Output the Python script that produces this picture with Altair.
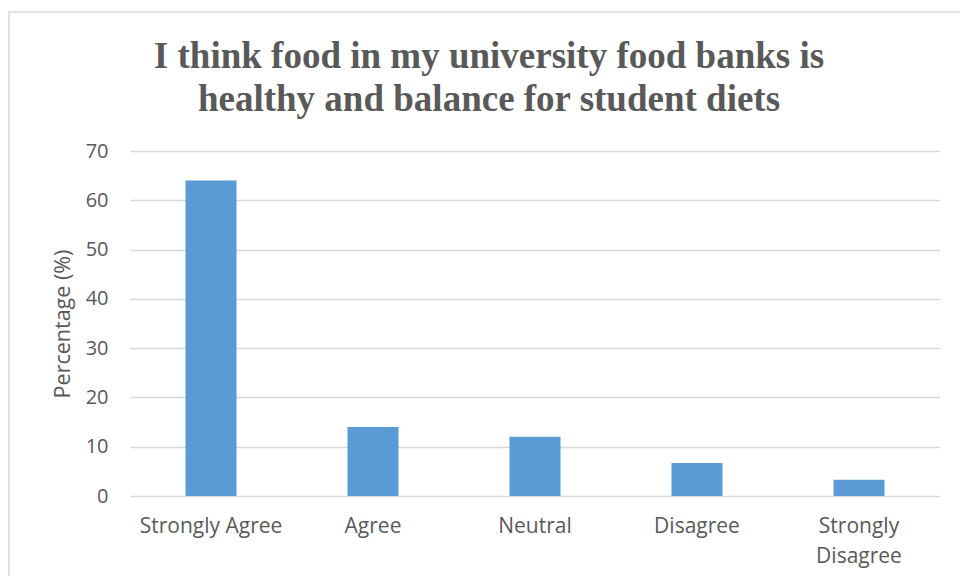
import altair as alt
import pandas as pd

categories = ["Strongly Agree", "Agree", "Neutral", "Disagree", "Strongly Disagree"]
percentages = [64, 14, 12, 6.7, 3.3]
y_ticks = [0, 10, 20, 30, 40, 50, 60, 70]

df = pd.DataFrame({"category": categories, "pct": percentages})

W, H = 810, 345
GRID = "#d9d9d9"
TXT = "#595959"

frame = alt.Chart(pd.DataFrame({"a": [0]})).mark_rect(
    fill=None, stroke=GRID, strokeWidth=1.5
).encode(
    x=alt.value(-121), x2=alt.value(1000),
    y=alt.value(-139), y2=alt.value(600),
)

bars = alt.Chart(df).mark_bar(color="#5b9bd5").encode(
    x=alt.X(
        "category:N",
        sort=categories,
        title=None,
        scale=alt.Scale(paddingInner=0.685, paddingOuter=0.3425),
        axis=alt.Axis(
            labelAngle=0,
            labelFont="Open Sans",
            labelFontSize=21,
            labelColor=TXT,
            labelPadding=19,
            labelLineHeight=30,
            labelExpr="datum.label == 'Strongly Disagree' ? ['Strongly', 'Disagree'] : datum.label",
            domain=False,
            ticks=False,
            grid=False,
        ),
    ),
    y=alt.Y(
        "pct:Q",
        scale=alt.Scale(domain=[0, 70]),
        axis=alt.Axis(
            values=y_ticks,
            title="Percentage (%)",
            titleFont="Open Sans",
            titleFontSize=21.5,
            titleFontWeight="normal",
            titleColor=TXT,
            titleX=-67,
            titleY=H / 2,
            titleBaseline="middle",
            labelFont="Open Sans",
            labelFontSize=20,
            labelColor=TXT,
            labelPadding=22,
            domain=False,
            ticks=False,
            gridColor=GRID,
            gridWidth=1.5,
        ),
    ),
)

chart = alt.layer(frame, bars).properties(
    width=W,
    height=H,
    background="white",
    autosize=alt.AutoSizeParams(type="none"),
    padding={"left": 122, "top": 143, "right": 20, "bottom": 80},
    title=alt.TitleParams(
        text=["I think food in my university food banks is",
              "healthy and balance for student diets"],
        font="Liberation Serif",
        fontSize=37,
        fontWeight="bold",
        color=TXT,
        anchor="middle",
        baseline="alphabetic",
        dx=-46,
        offset=-137,
        lineHeight=43,
    ),
).configure_view(stroke="transparent", strokeWidth=0)

chart.save("out.html", embed_options={"renderer": "svg", "actions": False})
